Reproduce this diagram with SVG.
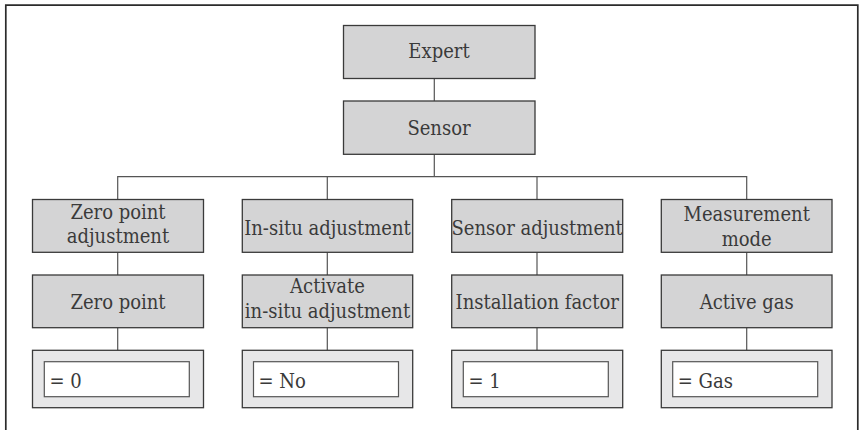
<svg xmlns="http://www.w3.org/2000/svg" width="863" height="430" viewBox="0 0 863 430">
<style>
.box{fill:#d4d4d5;stroke:#3a3a3a;stroke-width:1.3}
.outer{fill:#e7e7e8;stroke:#3a3a3a;stroke-width:1.3}
.inner{fill:#ffffff;stroke:#555555;stroke-width:1.2}
.con{fill:none;stroke:#555555;stroke-width:1.2}
.frame{fill:none;stroke:#2b2b2b;stroke-width:1.7}
text{font-family:"DejaVu Serif Condensed","DejaVu Serif",serif;font-size:20px;fill:#3a3a3a}
.c{text-anchor:middle}
</style>
<rect x="0" y="0" width="863" height="430" fill="#ffffff"/>
<path class="frame" d="M5.8,432 V5.2 H857.8 V432"/>
<g id="connectors">
<path class="con" d="M434.3,78.3 V101"/>
<path class="con" d="M434.3,154.3 V176.7"/>
<path class="con" d="M117.7,199.5 V176.7 H746.7 V199.5"/>
<path class="con" d="M327.3,176.7 V199.5"/>
<path class="con" d="M537,176.7 V199.5"/>
<path class="con" d="M117.7,252.3 V275 M117.7,327.7 V350.3"/>
<path class="con" d="M327.3,252.3 V275 M327.3,327.7 V350.3"/>
<path class="con" d="M537,252.3 V275 M537,327.7 V350.3"/>
<path class="con" d="M746.7,252.3 V275 M746.7,327.7 V350.3"/>
</g>
<g id="expert">
<rect class="box" x="343.5" y="25.5" width="191.5" height="53"/>
<text class="c" x="439" y="57.5">Expert</text>
</g>
<g id="sensor">
<rect class="box" x="343.5" y="101" width="191.5" height="53.3"/>
<text class="c" x="439" y="134.8">Sensor</text>
</g>
<g id="zero-point-adjustment">
<rect class="box" x="32.5" y="199.5" width="171" height="52.8"/>
<text class="c" x="118" y="218.5">Zero point</text>
<text class="c" x="118" y="243">adjustment</text>
</g>
<g id="zero-point">
<rect class="box" x="32.5" y="275" width="171" height="52.7"/>
<text class="c" x="118" y="309.3">Zero point</text>
</g>
<g id="zero-point-value">
<rect class="outer" x="32.5" y="350.3" width="171" height="57.4"/>
<rect class="inner" x="44.3" y="361.7" width="145" height="35"/>
<text x="49.5" y="387.7">= 0</text>
</g>
<g id="in-situ-adjustment">
<rect class="box" x="242.3" y="199.5" width="170.4" height="52.8"/>
<text class="c" x="327.5" y="234.5">In-situ adjustment</text>
</g>
<g id="activate-in-situ">
<rect class="box" x="242.3" y="275" width="170.4" height="52.7"/>
<text class="c" x="327.5" y="292.5">Activate</text>
<text class="c" x="327.5" y="317.5">in-situ adjustment</text>
</g>
<g id="in-situ-value">
<rect class="outer" x="242.3" y="350.3" width="170.4" height="57.4"/>
<rect class="inner" x="253.5" y="361.7" width="145" height="35"/>
<text x="258.5" y="387.7">= No</text>
</g>
<g id="sensor-adjustment">
<rect class="box" x="451.7" y="199.5" width="171" height="52.8"/>
<text class="c" x="537.2" y="234.5">Sensor adjustment</text>
</g>
<g id="installation-factor">
<rect class="box" x="451.7" y="275" width="171" height="52.7"/>
<text class="c" x="537.2" y="309.3">Installation factor</text>
</g>
<g id="installation-factor-value">
<rect class="outer" x="451.7" y="350.3" width="171" height="57.4"/>
<rect class="inner" x="463.3" y="361.7" width="145" height="35"/>
<text x="468.5" y="387.7">= 1</text>
</g>
<g id="measurement-mode">
<rect class="box" x="661.3" y="199.5" width="170.7" height="52.8"/>
<text class="c" x="746.7" y="221">Measurement</text>
<text class="c" x="746.7" y="246">mode</text>
</g>
<g id="active-gas">
<rect class="box" x="661.3" y="275" width="170.7" height="52.7"/>
<text class="c" x="746.7" y="309.3">Active gas</text>
</g>
<g id="active-gas-value">
<rect class="outer" x="661.3" y="350.3" width="170.7" height="57.4"/>
<rect class="inner" x="672.7" y="361.7" width="145" height="35"/>
<text x="677.8" y="387.7">= Gas</text>
</g>
</svg>
